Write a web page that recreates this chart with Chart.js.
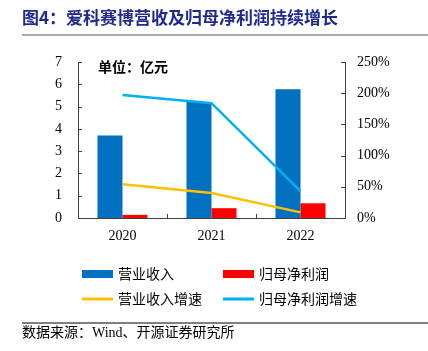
<!DOCTYPE html>
<html>
<head>
<meta charset="utf-8">
<script src="https://cdn.jsdelivr.net/npm/chart.js@4"></script>
<style>
  html, body { margin: 0; padding: 0; background: #fff; }
  #wrap { width: 428px; height: 351px; position: relative; }
</style>
</head>
<body>
<div id="wrap"><canvas id="chart" width="428" height="351"></canvas></div>
<script>
// data
const years = ['2020', '2021', '2022'];
const revenue = [3.7, 5.2, 5.78];        // 营业收入, 亿元
const netProfit = [0.14, 0.44, 0.66];    // 归母净利润, 亿元
const revenueGrowth = [54, 40, 9];       // 营业收入增速, %
const profitGrowth = [197, 184, 43];     // 归母净利润增速, %
const leftTicks = [0, 1, 2, 3, 4, 5, 6, 7];
const rightTicks = [0, 50, 100, 150, 200, 250];

const titleText = '图4：爱科赛博营收及归母净利润持续增长';
const unitText = '单位：亿元';
const sourceText = '数据来源：Wind、开源证券研究所';

const serif = '"Liberation Serif", "DejaVu Serif", serif';
const cjk = '"Noto Sans CJK SC", sans-serif';
const axisColor = '#404040';

// titles, unit note, inward tick marks and the legend
const decorPlugin = {
    id: 'decor',
    afterDraw(chart) {
        const ctx = chart.ctx;
        const area = chart.chartArea;
        const x = chart.scales.x, y = chart.scales.y, y1 = chart.scales.y1;
        ctx.save();

        // title
        ctx.fillStyle = '#1F2A8C';
        ctx.font = 'bold 17px ' + cjk;
        ctx.textBaseline = 'middle';
        ctx.textAlign = 'left';
        ctx.fillText(titleText, 22, 18);

        ctx.strokeStyle = '#8c8c8c';
        ctx.lineWidth = 1.5;
        ctx.beginPath();
        ctx.moveTo(22, 35); ctx.lineTo(428, 35);
        ctx.stroke();

        // unit
        ctx.fillStyle = '#000';
        ctx.font = 'bold 14px ' + cjk;
        ctx.fillText(unitText, 98, 67);

        // inward tick marks
        ctx.strokeStyle = axisColor;
        ctx.lineWidth = 1;
        ctx.beginPath();
        leftTicks.forEach(v => {
            const py = Math.round(y.getPixelForValue(v)) + 0.5;
            ctx.moveTo(area.left, py); ctx.lineTo(area.left + 4, py);
        });
        rightTicks.forEach(v => {
            const py = Math.round(y1.getPixelForValue(v)) + 0.5;
            ctx.moveTo(area.right, py); ctx.lineTo(area.right - 4, py);
        });
        for (let i = 0; i < years.length - 1; i++) {
            const px = Math.round((x.getPixelForValue(i) + x.getPixelForValue(i + 1)) / 2) + 0.5;
            ctx.moveTo(px, area.bottom); ctx.lineTo(px, area.bottom - 4);
        }
        ctx.stroke();

        // legend, two columns
        const cols = [82, 223];
        const rows = [274, 299];
        chart.data.datasets.forEach((ds, i) => {
            const lx = cols[i % 2];
            const ly = rows[Math.floor(i / 2)];
            if (ds.type === 'bar') {
                ctx.fillStyle = ds.backgroundColor;
                ctx.fillRect(lx, ly - 4, 31, 8);
            } else {
                ctx.strokeStyle = ds.borderColor;
                ctx.lineWidth = 3;
                ctx.beginPath();
                ctx.moveTo(lx, ly); ctx.lineTo(lx + 31, ly);
                ctx.stroke();
            }
            ctx.fillStyle = '#000';
            ctx.font = '14px ' + cjk;
            ctx.textBaseline = 'middle';
            ctx.fillText(ds.label, lx + 36, ly);
        });

        // source line and text
        ctx.strokeStyle = '#555';
        ctx.lineWidth = 1.5;
        ctx.beginPath();
        ctx.moveTo(22, 323); ctx.lineTo(428, 323);
        ctx.stroke();
        ctx.fillStyle = '#000';
        ctx.font = '14px "Liberation Serif", "Noto Sans CJK SC", serif';
        ctx.fillText(sourceText, 22, 333);

        ctx.restore();
    }
};

const chart = new Chart(document.getElementById('chart'), {
    data: {
        labels: years,
        datasets: [
            {
                type: 'bar', label: '营业收入', data: revenue, yAxisID: 'y',
                backgroundColor: '#0070C0', order: 1,
                categoryPercentage: 0.562, barPercentage: 1
            },
            {
                type: 'bar', label: '归母净利润', data: netProfit, yAxisID: 'y',
                backgroundColor: '#FF0000', order: 1,
                categoryPercentage: 0.562, barPercentage: 1
            },
            {
                type: 'line', label: '营业收入增速', data: revenueGrowth, yAxisID: 'y1',
                borderColor: '#FFC000', borderWidth: 2.5, pointRadius: 0,
                tension: 0, order: 0
            },
            {
                type: 'line', label: '归母净利润增速', data: profitGrowth, yAxisID: 'y1',
                borderColor: '#00B0F0', borderWidth: 2.5, pointRadius: 0,
                tension: 0, order: 0
            }
        ]
    },
    options: {
        responsive: false,
        animation: false,
        layout: { padding: { top: 62, left: 0, right: 0, bottom: 0 } },
        plugins: {
            legend: { display: false },
            tooltip: { enabled: false }
        },
        scales: {
            x: {
                offset: true,
                grid: { display: false, drawTicks: false },
                border: { display: true, color: axisColor, width: 1 },
                ticks: { color: '#000', font: { family: serif, size: 14 }, padding: 10 },
                afterFit: s => { s.height = 133; }
            },
            y: {
                position: 'left',
                min: 0, max: 7,
                afterBuildTicks: s => { s.ticks = leftTicks.map(v => ({ value: v })); },
                grid: { display: false, drawTicks: false },
                border: { display: true, color: axisColor, width: 1 },
                ticks: { color: '#000', font: { family: serif, size: 14 }, padding: 16 },
                afterFit: s => { s.width = 78; }
            },
            y1: {
                position: 'right',
                min: 0, max: 250,
                afterBuildTicks: s => { s.ticks = rightTicks.map(v => ({ value: v })); },
                grid: { display: false, drawTicks: false },
                border: { display: true, color: axisColor, width: 1 },
                ticks: {
                    color: '#000', font: { family: serif, size: 14 }, padding: 12,
                    callback: v => v + '%'
                },
                afterFit: s => { s.width = 83; }
            }
        }
    },
    plugins: [decorPlugin]
});
</script>
</body>
</html>
